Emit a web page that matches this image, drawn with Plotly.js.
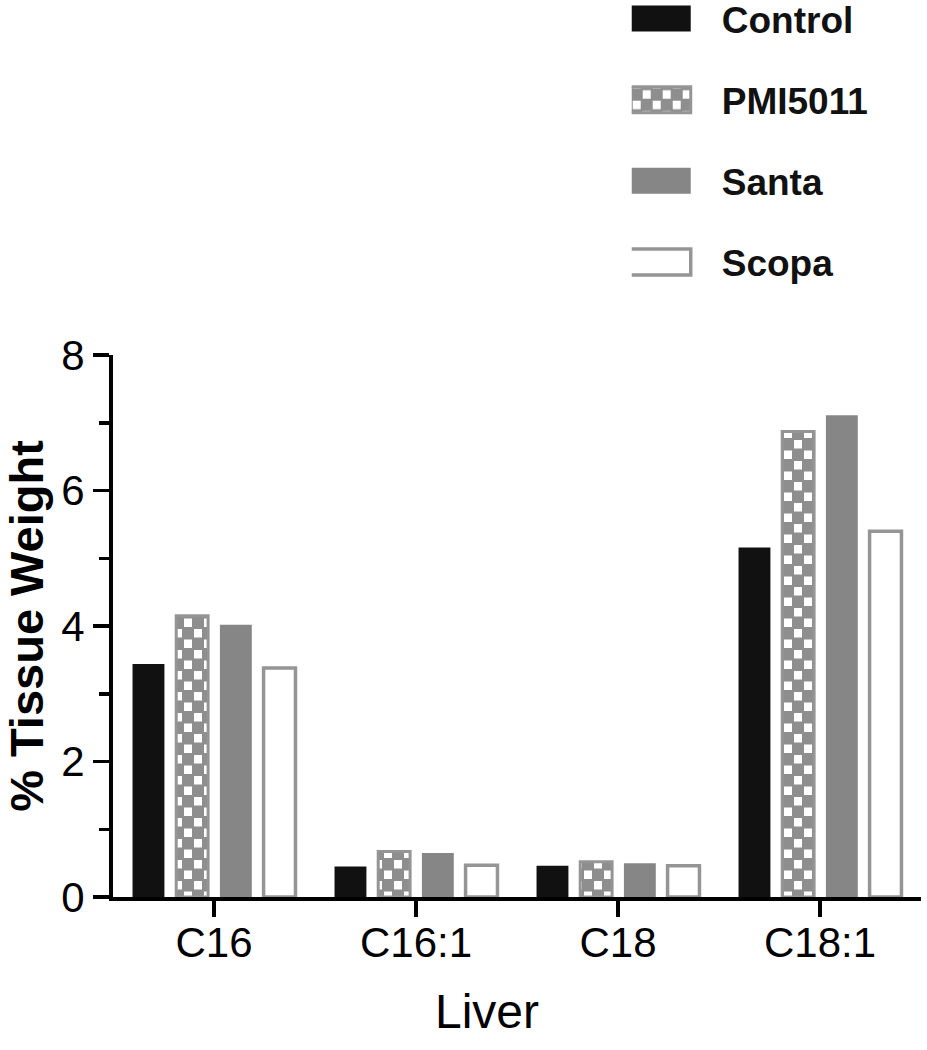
<!DOCTYPE html>
<html><head><meta charset="utf-8">
<script src="https://cdn.plot.ly/plotly-3.0.1.min.js"></script>
<style>body{margin:0;background:#fff}</style>
</head><body>
<div id="chart" style="width:927px;height:1050px"></div>
<script>
const categories = ['C16', 'C16:1', 'C18', 'C18:1'];
const seriesNames = ['Control', 'PMI5011', 'Santa', 'Scopa'];
const control = [3.44, 0.45, 0.46, 5.16];
const pmi5011 = [4.15, 0.67, 0.52, 6.87];
const santa = [4.02, 0.65, 0.50, 7.11];
const scopa = [3.38, 0.47, 0.46, 5.40];
const yTickVals = [0, 2, 4, 6, 8];
const xTitle = 'Liver';
const yTitle = '% Tissue Weight';

const FONT = 'Liberation Sans, Arial, sans-serif';
const GRAY = '#959595';

const traces = [
  {name: seriesNames[0], y: control, marker: {color: '#111111', line: {width: 0}}},
  {name: seriesNames[1], y: pmi5011, marker: {color: '#8e8e8e', line: {color: GRAY, width: 3}}},
  {name: seriesNames[2], y: santa, marker: {color: '#868686', line: {width: 0}}},
  {name: seriesNames[3], y: scopa, marker: {color: '#ffffff', line: {color: GRAY, width: 3.5}}}
].map((t, i) => Object.assign({type: 'bar', x: categories, legendgroup: 'g' + i, hoverinfo: 'none'}, t));

const layout = {
  width: 927, height: 1050,
  margin: {l: 113, r: 6, t: 355, b: 153, autoexpand: false},
  paper_bgcolor: '#fff', plot_bgcolor: '#fff',
  barmode: 'group', bargap: 0.135, bargroupgap: 0.27,
  font: {family: FONT, color: '#000'},
  showlegend: true,
  legend: {
    x: 0.642, xanchor: 'left', y: 1.677, yanchor: 'top',
    font: {family: FONT, size: 37, weight: 'bold', color: '#111'},
    tracegroupgap: 30, itemwidth: 80, bgcolor: 'rgba(0,0,0,0)'
  },
  xaxis: {
    type: 'category', range: [-0.5, 3.5], automargin: false,
    showline: true, linecolor: '#000', linewidth: 4,
    ticks: 'outside', ticklen: 16, tickwidth: 3.5, tickcolor: '#000',
    ticklabelstandoff: -10,
    tickfont: {family: FONT, size: 42, color: '#000'},
    showgrid: false, zeroline: false
  },
  yaxis: {
    range: [0, 8], tickvals: yTickVals, automargin: false,
    showline: true, linecolor: '#000', linewidth: 4,
    ticks: 'outside', ticklen: 16, tickwidth: 3.5, tickcolor: '#000',
    minor: {dtick: 1, ticks: 'outside', ticklen: 10, tickwidth: 3.5, tickcolor: '#000'},
    tickfont: {family: FONT, size: 42, color: '#000'},
    showgrid: false, zeroline: false,
    title: {text: yTitle, font: {family: FONT, size: 47, weight: 'bold', color: '#000'}, standoff: 18}
  },
  annotations: [{
    text: xTitle, xref: 'paper', yref: 'paper', x: 0.463, y: -0.212,
    xanchor: 'center', yanchor: 'middle', showarrow: false,
    font: {family: FONT, size: 48, color: '#000'}
  }]
};

const gd = document.getElementById('chart');
Plotly.newPlot(gd, traces, layout, {staticPlot: true, displayModeBar: false}).then(() => {
  const svgNS = 'http://www.w3.org/2000/svg';
  const defs = gd.querySelector('.main-svg defs');
  const pat = document.createElementNS(svgNS, 'pattern');
  pat.setAttribute('id', 'checker');
  pat.setAttribute('patternUnits', 'userSpaceOnUse');
  pat.setAttribute('width', '20');
  pat.setAttribute('height', '21');
  const bg = document.createElementNS(svgNS, 'rect');
  bg.setAttribute('width', '20'); bg.setAttribute('height', '21'); bg.setAttribute('fill', '#8e8e8e');
  pat.appendChild(bg);
  [[1, 1], [11, 11.5]].forEach(([x, y]) => {
    const r = document.createElementNS(svgNS, 'rect');
    r.setAttribute('x', x); r.setAttribute('y', y);
    r.setAttribute('width', '8'); r.setAttribute('height', '8.5'); r.setAttribute('fill', '#fff');
    pat.appendChild(r);
  });
  defs.appendChild(pat);

  const barTraces = gd.querySelectorAll('.barlayer .trace');
  barTraces[1].querySelectorAll('path').forEach(p => { p.style.fill = 'url(#checker)'; });

  gd.querySelectorAll('.legend .traces').forEach((g, i) => {
    const txt = g.querySelector('.legendtext');
    const tx = parseFloat(txt.getAttribute('x')) || 40;
    const p = g.querySelector('.legendpoints path');
    if (!p) return;
    p.setAttribute('transform', '');
    const x0 = tx - 95, x1 = tx - 31;
    p.setAttribute('d', 'M' + x0 + ',-13H' + x1 + 'V13H' + x0 + 'Z');
    if (i === 1) p.style.fill = 'url(#checker)';
  });
});
</script>
</body></html>
